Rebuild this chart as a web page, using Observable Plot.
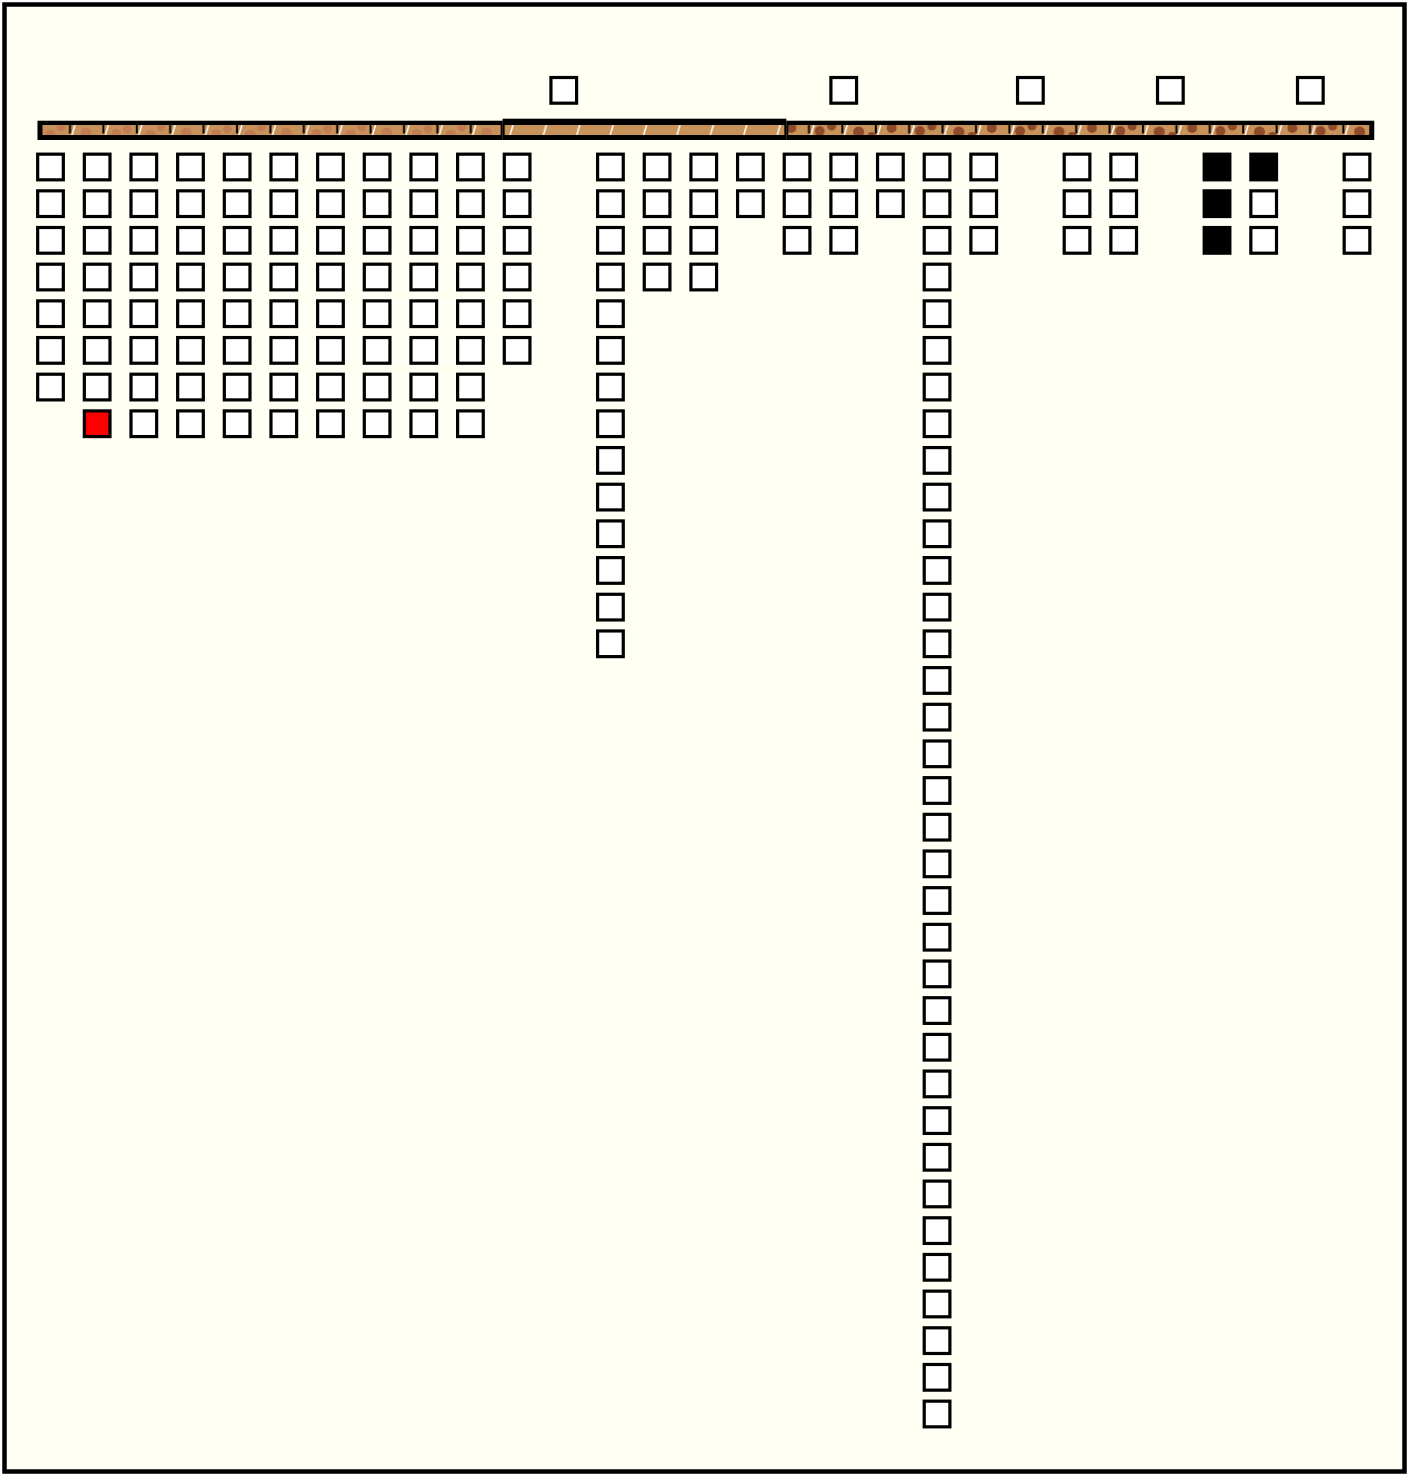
<!DOCTYPE html>
<html>
<head>
<meta charset="utf-8">
<script src="https://cdn.jsdelivr.net/npm/d3@7"></script>
<script src="https://cdn.jsdelivr.net/npm/@observablehq/plot@0.6"></script>
<style>
  html, body { margin: 0; padding: 0; background: #ffffff; }
  #chart svg { display: block; }
</style>
</head>
<body>
<div id="chart"></div>
<script>
// ---- data ----
const counts = [7, 8, 8, 8, 8, 8, 8, 8, 8, 8, 6, 0, 14, 4, 4, 2, 3, 3, 2, 35, 3, 0, 3, 3, 0, 3, 3, 0, 3];
const aboveColumns = [11, 17, 21, 24, 27];
const redCells = [[1, 7]];
const blackCells = [[25, 0], [25, 1], [25, 2], [26, 0]];
const segmentStarts = [-0.279, 9.69, 15.77];
const segmentEnds = [9.69, 15.77, 28.37];
const segmentTypes = ["light", "plain", "dark"];

// ---- layout constants ----
const ABOVE_ROW = -2.09;
const HW = 0.275, HH = 0.35;
const BAR_TOP = -1.262, BAR_BOTTOM = -0.736, MID_TOP = -1.317;
const CREAM = "#fffff4";
const TAN = "#c8935a";

const key = (c, r) => c + "," + r;
const redSet = new Set(redCells.map(([c, r]) => key(c, r)));
const blackSet = new Set(blackCells.map(([c, r]) => key(c, r)));

const cells = [];
counts.forEach((n, c) => {
  for (let r = 0; r < n; r++) {
    const k = key(c, r);
    cells.push({col: c, row: r, kind: redSet.has(k) ? "red" : blackSet.has(k) ? "black" : "white"});
  }
});
aboveColumns.forEach(c => cells.push({col: c, row: ABOVE_ROW, kind: "white"}));

const segments = segmentStarts.map((s, i) => ({start: s, end: segmentEnds[i], type: segmentTypes[i]}));

const chart = Plot.plot({
  width: 1408,
  height: 1475,
  margin: 0,
  style: {background: "#ffffff", overflow: "visible"},
  x: {domain: [0, 28], range: [50.5, 1357], axis: null},
  y: {domain: [0, 34], range: [167, 1414], axis: null},
  color: {domain: ["white", "red", "black"], range: ["#fafaff", "#ff0000", "#000000"]},
  marks: [
    Plot.frame({fill: CREAM, stroke: "black", strokeWidth: 4.5, inset: 4}),
    // bar outline
    Plot.rect(segments, {x1: "start", x2: "end", y1: BAR_TOP, y2: BAR_BOTTOM, fill: "black"}),
    Plot.rect(segments.filter(d => d.type === "plain"), {x1: "start", x2: "end", y1: MID_TOP, y2: BAR_BOTTOM, fill: "black"}),
    // bar fills
    Plot.rect(segments.filter(d => d.type === "light"), {x1: "start", x2: "end", y1: BAR_TOP, y2: BAR_BOTTOM, fill: "url(#pat-light)", insetLeft: 5, insetRight: 2, insetTop: 4.3, insetBottom: 5}),
    Plot.rect(segments.filter(d => d.type === "plain"), {x1: "start", x2: "end", y1: BAR_TOP, y2: BAR_BOTTOM, fill: "url(#pat-plain)", insetLeft: 2, insetRight: 2, insetTop: 4.3, insetBottom: 5}),
    Plot.rect(segments.filter(d => d.type === "dark"), {x1: "start", x2: "end", y1: BAR_TOP, y2: BAR_BOTTOM, fill: "url(#pat-dark)", insetLeft: 2, insetRight: 5, insetTop: 4.3, insetBottom: 5}),
    // squares
    Plot.rect(cells, {
      x1: d => d.col - HW, x2: d => d.col + HW,
      y1: d => d.row - HH, y2: d => d.row + HH,
      fill: "kind", stroke: "black", strokeWidth: 3.2
    })
  ]
});

document.getElementById("chart").append(chart);

// ---- patterns for the bar ----
const svg = d3.select(chart);
const defs = svg.insert("defs", ":first-child");
function makePattern(id, phase, dotColor, dots, blackTick) {
  const W = 100.2;
  const p = defs.append("pattern").attr("id", id)
    .attr("patternUnits", "userSpaceOnUse")
    .attr("x", 0).attr("y", 0).attr("width", W).attr("height", 1475);
  p.append("rect").attr("width", W).attr("height", 1475).attr("fill", TAN);
  if (dotColor) {
    dots.forEach(([cx, cy, r]) => p.append("circle").attr("cx", cx).attr("cy", cy).attr("r", r).attr("fill", dotColor));
  }
  for (let i = 0; i < 3; i++) {
    const x = phase + i * 33.4;
    if (blackTick) {
      p.append("line").attr("x1", x).attr("y1", 124).attr("x2", x).attr("y2", 133.5)
        .attr("stroke", "black").attr("stroke-width", 2);
    }
    p.append("line").attr("x1", x + 2).attr("y1", 135).attr("x2", x + 5).attr("y2", 125)
      .attr("stroke", "white").attr("stroke-width", 1.5);
  }
}
makePattern("pat-light", 3.2, "#c27d55",
  [[16, 134, 5], [27, 129, 4.5], [50, 135, 5.5], [61, 127, 4.5], [86, 133, 5.5]], true);
makePattern("pat-plain", 7, null, [], false);
makePattern("pat-dark", 7.4, "#8e4a2a",
  [[18, 131, 5], [30, 126, 4.5], [57, 132, 5.5], [70, 136, 4], [90, 128, 5]], true);
</script>
</body>
</html>
